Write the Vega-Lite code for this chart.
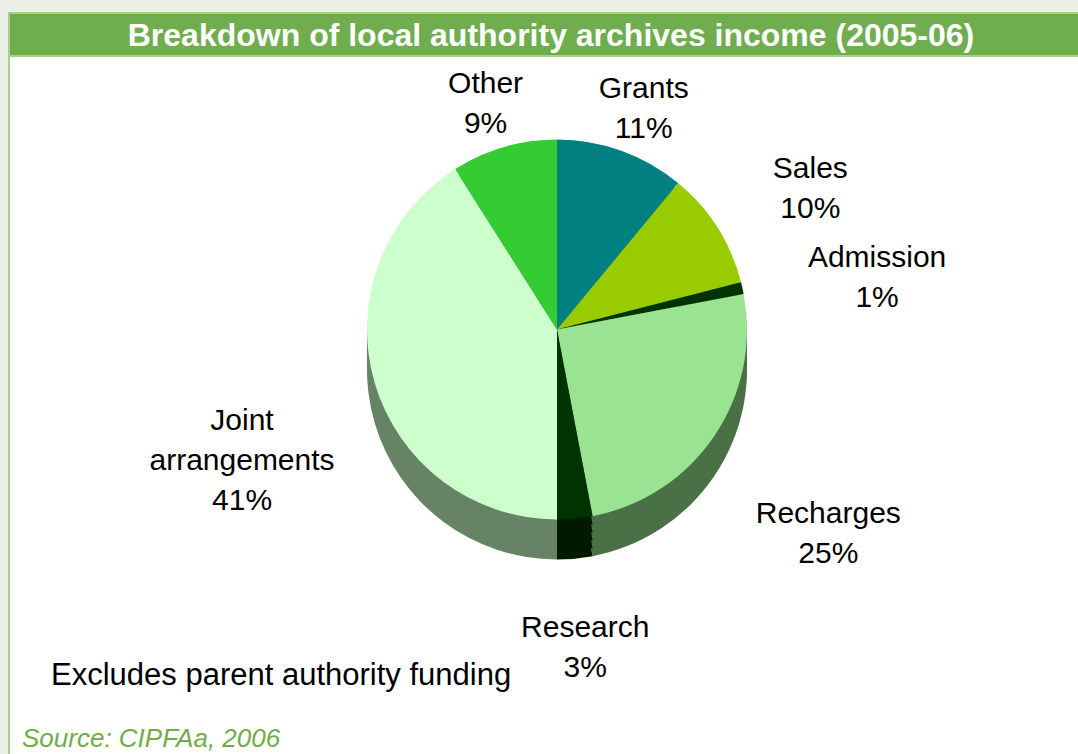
{
  "$schema": "https://vega.github.io/schema/vega-lite/v6.json",
  "background": "#ebf1e7",
  "padding": {"left": 8, "top": 12, "right": 0, "bottom": 0},
  "spacing": 0,
  "bounds": "flush",
  "config": {"view": {"stroke": null}, "font": "Liberation Sans"},
  "title": {"text": "Source: CIPFAa, 2006", "orient": "bottom", "anchor": "start", "offset": -30, "dx": 14, "font": "Liberation Sans", "fontSize": 26, "fontWeight": "normal", "fontStyle": "italic", "color": "#70ad47"},
  "vconcat": [
    {
      "width": 1072,
      "height": 43,
      "view": {"fill": "#70ad4f", "stroke": "#a9d18e", "strokeWidth": 2},
      "data": {"values": [{"t": "Breakdown of local authority archives income (2005-06)"}]},
      "mark": {"type": "text", "font": "Liberation Sans", "fontSize": 32, "fontWeight": "bold", "color": "white", "baseline": "middle", "dx": 6, "dy": 1},
      "encoding": {"text": {"field": "t", "type": "nominal"}}
    },
    {
      "width": 1072,
      "height": 699,
      "view": {"fill": "white", "stroke": "#a9d18e", "strokeWidth": 2},
      "title": {"text": "Excludes parent authority funding", "orient": "bottom", "anchor": "start", "frame": "group", "offset": -94, "dx": 42, "font": "Liberation Sans", "fontSize": 31, "fontWeight": "normal", "color": "black"},
      "data": {"values": [
        {"rank": 1, "category": "Grants", "share": 11, "label": "Grants\n11%"},
        {"rank": 2, "category": "Sales", "share": 10, "label": "Sales\n10%"},
        {"rank": 3, "category": "Admission", "share": 1, "label": "Admission\n1%"},
        {"rank": 4, "category": "Recharges", "share": 25, "label": "Recharges\n25%"},
        {"rank": 5, "category": "Research", "share": 3, "label": "Research\n3%"},
        {"rank": 6, "category": "Joint arrangements", "share": 41, "label": "Joint\narrangements\n41%"},
        {"rank": 7, "category": "Other", "share": 9, "label": "Other\n9%"}
      ]},
      "encoding": {
        "theta": {"field": "share", "type": "quantitative", "stack": true},
        "order": {"field": "rank", "type": "quantitative"}
      },
      "layer": [
        {"mark": {"type": "arc", "radius": 190, "xOffset": 12, "yOffset": -36}, "encoding": {"fill": {"field": "category", "type": "nominal", "legend": null, "scale": {"domain": ["Grants", "Sales", "Admission", "Recharges", "Research", "Joint arrangements", "Other"], "range": ["#005a5a", "#6b8f00", "#001a00", "#4a7046", "#001a00", "#668366", "#248f24"]}}}},
        {"mark": {"type": "arc", "radius": 190, "xOffset": 12, "yOffset": -44}, "encoding": {"fill": {"field": "category", "type": "nominal", "legend": null}}},
        {"mark": {"type": "arc", "radius": 190, "xOffset": 12, "yOffset": -52}, "encoding": {"fill": {"field": "category", "type": "nominal", "legend": null}}},
        {"mark": {"type": "arc", "radius": 190, "xOffset": 12, "yOffset": -60}, "encoding": {"fill": {"field": "category", "type": "nominal", "legend": null}}},
        {"mark": {"type": "arc", "radius": 190, "xOffset": 12, "yOffset": -68}, "encoding": {"fill": {"field": "category", "type": "nominal", "legend": null}}},
        {"mark": {"type": "arc", "radius": 190, "xOffset": 12, "yOffset": -76}, "encoding": {"color": {"field": "category", "type": "nominal", "legend": null, "scale": {"domain": ["Grants", "Sales", "Admission", "Recharges", "Research", "Joint arrangements", "Other"], "range": ["#008080", "#99cc00", "#003300", "#99e393", "#003300", "#ccffcc", "#33cc33"]}}}},
        {
          "mark": {"type": "text", "radius": 256, "xOffset": 12, "yOffset": -76, "lineHeight": 40, "lineBreak": "\n", "color": "black", "baseline": "middle", "font": "Liberation Sans"},
          "encoding": {
            "text": {"condition": {"test": "indexof(['Grants','Other'], datum.category) >= 0", "field": "label", "type": "nominal"}, "value": ""},
            "size": {"condition": {"test": "indexof(['Grants','Other'], datum.category) >= 0", "value": 30}, "value": 0}
          }
        },
        {
          "mark": {"type": "text", "radius": 300, "xOffset": 12, "yOffset": -76, "lineHeight": 40, "lineBreak": "\n", "color": "black", "baseline": "middle", "font": "Liberation Sans"},
          "encoding": {
            "text": {"condition": {"test": "indexof(['Sales','Research'], datum.category) >= 0", "field": "label", "type": "nominal"}, "value": ""},
            "size": {"condition": {"test": "indexof(['Sales','Research'], datum.category) >= 0", "value": 30}, "value": 0}
          }
        },
        {
          "mark": {"type": "text", "radius": 328, "xOffset": 12, "yOffset": -76, "lineHeight": 40, "lineBreak": "\n", "color": "black", "baseline": "middle", "font": "Liberation Sans"},
          "encoding": {
            "text": {"condition": {"test": "indexof(['Admission','Recharges','Joint arrangements'], datum.category) >= 0", "field": "label", "type": "nominal"}, "value": ""},
            "size": {"condition": {"test": "indexof(['Admission','Recharges','Joint arrangements'], datum.category) >= 0", "value": 30}, "value": 0}
          }
        }
      ]
    }
  ]
}
